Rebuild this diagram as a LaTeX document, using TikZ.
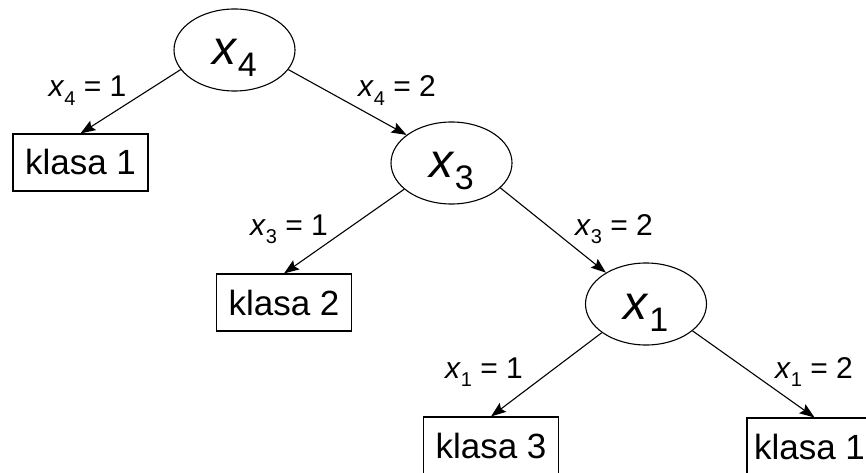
\documentclass[tikz,border=0pt]{standalone}
\usepackage{fontspec}
\setmainfont{Liberation Sans}
\usetikzlibrary{shapes.geometric,arrows.meta}
\newcommand{\varnode}[1]{\fontsize{48}{48}\selectfont\textit{x}\raisebox{-0.25em}{\fontsize{34}{34}\selectfont #1}}
\newcommand{\condlabel}[2]{\fontsize{30}{30}\selectfont\textit{x}\raisebox{-0.28em}{\fontsize{20}{20}\selectfont #1} = #2}
\tikzset{
  varell/.style={draw, ellipse, line width=1.1pt, minimum width=121pt, minimum height=82pt, inner sep=0pt, text height=38pt, text depth=8pt},
  classbox/.style={draw, rectangle, line width=1.1pt, minimum width=135pt, minimum height=57pt, inner sep=0pt, text height=25pt, text depth=0pt, font=\fontsize{35}{35}\selectfont},
  edgelbl/.style={anchor=base, inner sep=0pt},
  arr/.style={line width=1.1pt, -{Stealth[length=15pt, width=11pt, inset=2.5pt]}}
}
\begin{document}
\begin{tikzpicture}[x=1pt, y=-1pt]
\clip (0,0) rectangle (866,473);
\node[varell] (x4) at (234.5,50) {\varnode{4}};
\node[classbox] (k1) at (80.5,162.5) {klasa 1};
\node[varell] (x3) at (451.5,163) {\varnode{3}};
\node[classbox] (k2) at (284,302.5) {klasa 2};
\node[varell] (x1) at (646,304) {\varnode{1}};
\node[classbox] (k3) at (491,445.5) {klasa 3};
\node[classbox] (k4) at (814.5,446.5) {klasa 1\hspace*{10pt}};

\draw[arr] (x4.200) -- (k1.north);
\draw[arr] (x4.-20) -- (x3.148);
\draw[arr] (x3.209) -- (k2.north);
\draw[arr] (x3.-27) -- (x1.142);
\draw[arr] (x1.213) -- (k3.north);
\draw[arr] (x1.-30) -- (k4.north);

\node[edgelbl] (l41) at (87.5,97) {\condlabel{4}{1}};
\node[edgelbl] (l42) at (397,97) {\condlabel{4}{2}};
\node[edgelbl] (l31) at (289,235) {\condlabel{3}{1}};
\node[edgelbl] (l32) at (614,235) {\condlabel{3}{2}};
\node[edgelbl] (l11) at (484,378) {\condlabel{1}{1}};
\node[edgelbl] (l12) at (814,378) {\condlabel{1}{2}};
\end{tikzpicture}
\end{document}
